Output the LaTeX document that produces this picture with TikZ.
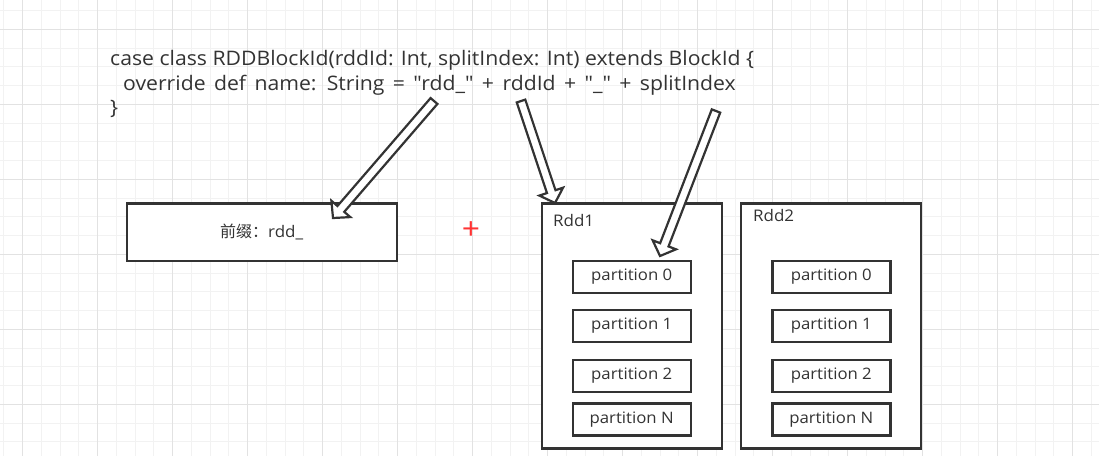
\documentclass[tikz,border=0pt]{standalone}
\usepackage{fontspec}
\setmainfont{Open Sans}[FakeStretch=1.06, Ligatures=TeXOff]
\newfontfamily\cjk{Noto Sans CJK SC}
\usetikzlibrary{calc}
\definecolor{ink}{RGB}{51,51,51}
\definecolor{gridminor}{RGB}{242,242,242}
\definecolor{gridmajor}{RGB}{226,226,226}
\definecolor{plusred}{RGB}{255,51,51}
\newcommand\hollowarrow[2]{%
  \coordinate (#1neck) at ($(#2)!12pt!(#1)$);
  \draw[barrow] ($(#1)!4.5pt!90:(#2)$) -- ($(#1neck)!4.5pt!90:(#2)$) -- ($(#1neck)!12.5pt!90:(#2)$) -- (#2)
    -- ($(#1neck)!12.5pt!-90:(#2)$) -- ($(#1neck)!4.5pt!-90:(#2)$) -- ($(#1)!4.5pt!-90:(#2)$) -- cycle;}
\begin{document}
\begin{tikzpicture}[x=1pt,y=-1pt,
  box/.style={draw=ink, line width=2.4pt, fill=white, inner sep=0pt, text=ink},
  partbox/.style={box, minimum width=118pt, minimum height=32pt, font=\fontsize{15.8}{19}\selectfont},
  rddlabel/.style={text=ink, anchor=base west, inner sep=0pt, font=\fontsize{16}{19}\selectfont},
  codetext/.style={text=ink, anchor=base west, inner sep=0pt, font=\fontsize{20}{24}\selectfont},
  barrow/.style={draw=ink, fill=white, line width=2.2pt, line join=miter}]
\useasboundingbox (0,0) rectangle (1099,456);
\fill[white] (0,0) rectangle (1099,456);
% grid
\foreach \i in {0,...,58} \draw[gridminor, line width=1pt] ({3.95+18.75*\i},0) -- ++(0,456);
\foreach \i in {0,...,23} \draw[gridminor, line width=1pt] (0,{10.55+18.75*\i}) -- ++(1099,0);
\foreach \i in {0,...,14} \draw[gridmajor, line width=1pt] ({22.7+75*\i},0) -- ++(0,456);
\foreach \i in {0,...,5} \draw[gridmajor, line width=1pt] (0,{29.3+75*\i}) -- ++(1099,0);
% code
\node[codetext] (code1) at (110,65) {case class RDDBlockId(rddId: Int, splitIndex: Int) extends BlockId \{};
\node[codetext] (code2) at (123,90) {\spaceskip=8.4pt override def name: String = "rdd\_" + rddId + "\_" + splitIndex};
\node[codetext] (code3) at (110,114) {\}};
% boxes
\node[box, minimum width=270pt, minimum height=57.4pt, font=\fontsize{16}{19}\selectfont] (prefix) at (261.7,232) {{\cjk 前缀：}rdd\_};
\node[text=plusred, inner sep=0pt, font=\fontsize{30}{30}\selectfont] (plus) at (471,231) {+};
\node[box, minimum width=179.7pt, minimum height=245pt] (rdd1) at (631.85,325.8) {};
\node[box, minimum width=180pt, minimum height=245pt] (rdd2) at (830.7,325.8) {};
\node[rddlabel] (rdd1label) at (553,226.7) {Rdd1};
\node[rddlabel] (rdd2label) at (753,221.7) {Rdd2};
\node[partbox] (a0) at (631.7,276.7) {partition 0};
\node[partbox] (a1) at (631.7,325.9) {partition 1};
\node[partbox] (a2) at (631.7,375.9) {partition 2};
\node[partbox] (aN) at (631.7,419.5) {partition N};
\node[partbox] (b0) at (831.3,276.7) {partition 0};
\node[partbox] (b1) at (831.3,325.9) {partition 1};
\node[partbox] (b2) at (831.3,375.9) {partition 2};
\node[partbox] (bN) at (831.3,419.5) {partition N};
% arrows
\coordinate (t1) at (434,101);
\coordinate (h1) at (333,218);
\coordinate (t2) at (521,101);
\coordinate (h2) at (555,203);
\coordinate (t3) at (716,111);
\coordinate (h3) at (660,256);
\hollowarrow{t1}{h1}
\hollowarrow{t2}{h2}
\hollowarrow{t3}{h3}
\end{tikzpicture}
\end{document}
